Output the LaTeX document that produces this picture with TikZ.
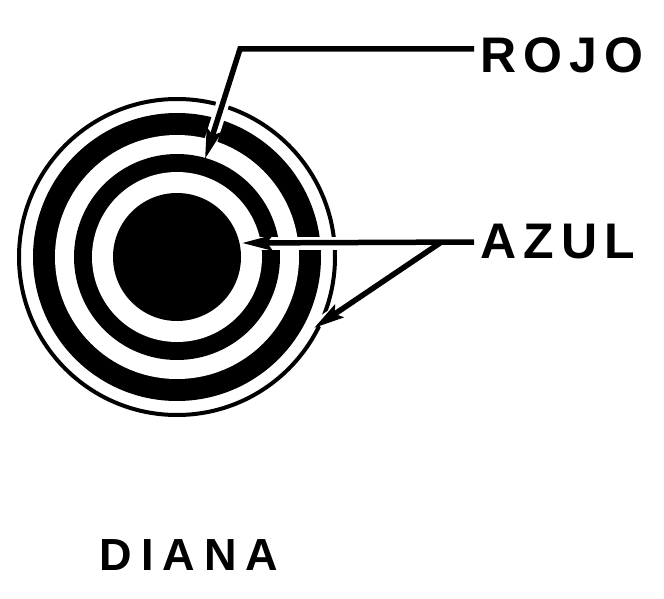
\documentclass[tikz,border=0pt]{standalone}
\usepackage{fontspec}
\setmainfont{Liberation Sans}
\usetikzlibrary{arrows, arrows.meta}

\tikzset{
  lbl/.style={font=\fontsize{50}{50}\selectfont\bfseries\addfontfeatures{LetterSpace=14}, inner sep=4pt},
  title/.style={font=\fontsize{45}{45}\selectfont\bfseries\addfontfeatures{LetterSpace=20}, inner sep=0pt},
  halo/.style={draw=white, line width=13pt, shorten >=6pt}
}

\begin{document}
\begin{tikzpicture}[x=1pt,y=-1pt]
\useasboundingbox (0,0) rectangle (664,599);
\begin{scope}[>={Stealth[length=30pt,width=15pt,inset=5pt]}, line width=5.5pt]

\coordinate (M) at (177,257);
\coordinate (R1) at (240,49);
\coordinate (R2) at (205,159);
\coordinate (A1) at (440,243);
\coordinate (A2) at (242,243);
\coordinate (A3) at (314,328);

\draw[line width=4pt] (M) circle (158pt);
\fill (M) circle (144pt);
\fill[white] (M) circle (122pt);
\fill (M) circle (103pt);
\fill[white] (M) circle (85pt);
\fill (M) circle (64pt);

\node[lbl, anchor=west] (rojo) at (474,55) {ROJO};
\node[lbl, anchor=west] (azul) at (474,242) {AZUL};
\node[title] (diana) at (189,555) {DIANA};

\draw[halo] (R1) -- (R2);
\draw[halo] (A1) -- (A2);
\draw[halo] (A1) -- (A3);

\draw[->] ([yshift=6pt]rojo.west) -- (R1) -- (R2);
\draw[->] (azul.west) -- (A2);
\draw[->] (A1) -- (A3);

\end{scope}
\end{tikzpicture}
\end{document}
